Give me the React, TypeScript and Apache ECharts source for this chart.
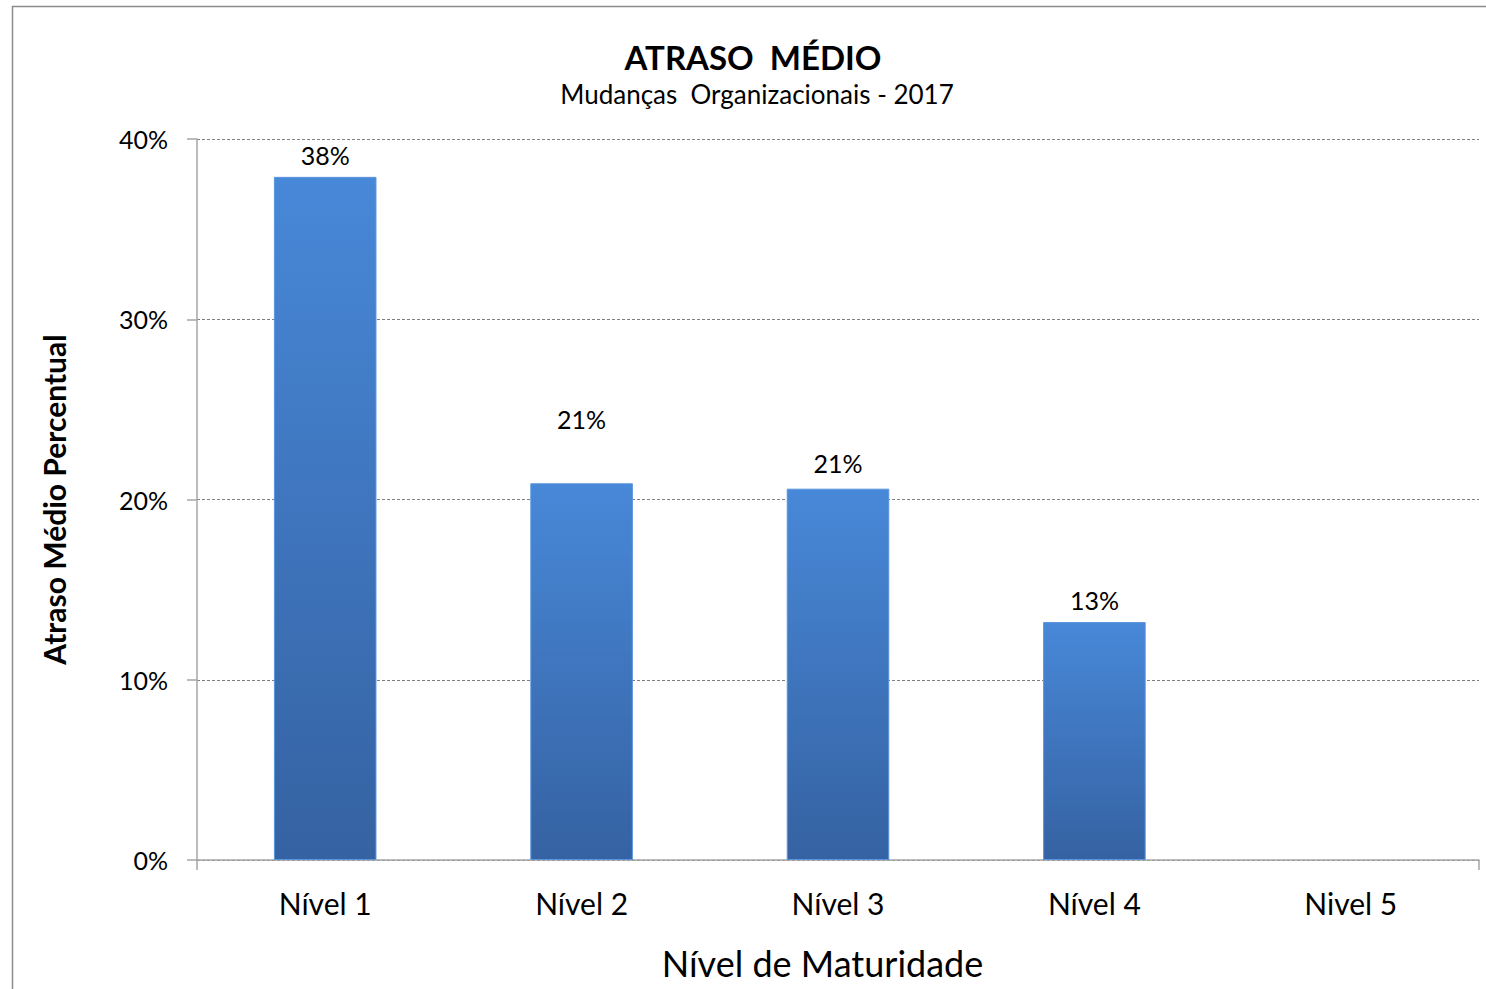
import React, { useEffect, useRef } from "react";
import * as echarts from "echarts";

const categories = ["Nível 1", "Nível 2", "Nível 3", "Nível 4", "Nivel 5"];
const values: (number | null)[] = [0.379, 0.209, 0.206, 0.132, null];
const labelDistances = [9, 52, 13, 10, 6];
const titleText = "ATRASO  MÉDIO";
const subtitleText = "Mudanças  Organizacionais - 2017";
const yAxisName = "Atraso Médio Percentual";
const xAxisName = "Nível de Maturidade";

const FONT = "Lato, 'Noto Sans', sans-serif";

export default function App() {
  const ref = useRef<HTMLDivElement>(null);
  useEffect(() => {
    if (!ref.current) return;
    const chart = echarts.init(ref.current, null, { renderer: "svg" });
    const barColor = new echarts.graphic.LinearGradient(0, 0, 0, 1, [
      { offset: 0, color: "#4888d8" },
      { offset: 1, color: "#3562a2" },
    ]);
    chart.setOption({
      animation: false,
      backgroundColor: "#ffffff",
      textStyle: { fontFamily: FONT },
      graphic: [
        {
          type: "rect",
          shape: { x: 12.5, y: 6.5, width: 1600, height: 1100 },
          style: { fill: "none", stroke: "#8c8c8c", lineWidth: 1.5 },
          silent: true,
          z: -1,
        },
        {
          type: "text",
          x: 753,
          y: 57,
          style: {
            text: titleText,
            fontFamily: FONT,
            fontWeight: "bold",
            fontSize: 33,
            fill: "#000",
            textAlign: "center",
            textVerticalAlign: "middle",
          },
        },
        {
          type: "text",
          x: 757,
          y: 94,
          style: {
            text: subtitleText,
            fontFamily: FONT,
            fontSize: 26,
            fill: "#000",
            textAlign: "center",
            textVerticalAlign: "middle",
          },
        },
      ],
      grid: {
        left: 197,
        right: 7,
        top: 139,
        height: 721,
        containLabel: false,
        outerBoundsMode: "none",
      },
      xAxis: {
        type: "category",
        data: categories,
        name: xAxisName,
        nameLocation: "middle",
        nameGap: 85,
        nameTextStyle: {
          fontFamily: FONT,
          fontSize: 36,
          color: "#000",
          padding: [0, 31, 0, 0],
        },
        axisLine: { show: true, lineStyle: { color: "#a6a6a6", width: 1.5 } },
        axisTick: {
          show: true,
          length: 10,
          interval: (i: number) => i === 0 || i >= categories.length,
          lineStyle: { color: "#a6a6a6", width: 1.5 },
        },
        axisLabel: { fontFamily: FONT, fontSize: 30, color: "#000", margin: 28 },
      },
      yAxis: {
        type: "value",
        min: 0,
        max: 0.4,
        interval: 0.1,
        name: yAxisName,
        nameLocation: "middle",
        nameGap: 128,
        nameRotate: 90,
        nameTextStyle: { fontFamily: FONT, fontSize: 30, fontWeight: "bold", color: "#000" },
        axisLine: { show: true, lineStyle: { color: "#a6a6a6", width: 1.5 } },
        axisTick: { show: true, length: 10, lineStyle: { color: "#a6a6a6", width: 1.5 } },
        axisLabel: {
          fontFamily: FONT,
          fontSize: 25,
          color: "#000",
          margin: 29,
          formatter: (v: number) => Math.round(v * 100) + "%",
        },
        splitLine: {
          show: true,
          lineStyle: { color: "#7f7f7f", type: [3, 2], width: 1 },
        },
      },
      series: [
        {
          type: "bar",
          barWidth: "40%",
          data: values.map((v, i) => ({
            value: v,
            label: { distance: labelDistances[i] },
          })),
          itemStyle: { color: barColor, borderColor: "#5a95dd", borderWidth: 1 },
          label: {
            show: true,
            position: "top",
            fontFamily: FONT,
            fontSize: 25,
            color: "#000",
            formatter: (p: any) =>
              p.value == null ? "" : Math.round(p.value * 100) + "%",
          },
        },
      ],
    });
    return () => chart.dispose();
  }, []);
  return (
    <div
      ref={ref}
      style={{ position: "absolute", left: 0, top: 0, width: 1486, height: 989 }}
    />
  );
}
